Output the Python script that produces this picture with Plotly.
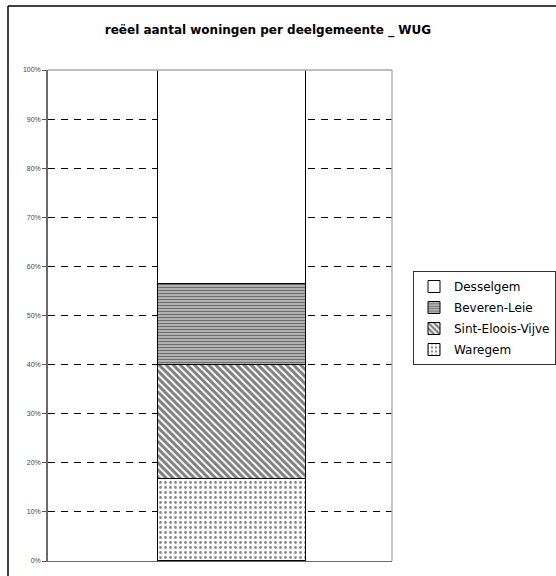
import plotly.graph_objects as go

# Share of dwellings per sub-municipality (stacked to 100 %)
categories = ["WUG"]
waregem = [16.7]
sint_eloois_vijve = [23.2]
beveren_leie = [16.5]
desselgem = [43.6]

tick_values = [0, 10, 20, 30, 40, 50, 60, 70, 80, 90, 100]
tick_labels = ["0%", "10%", "20%", "30%", "40%", "50%", "60%", "70%", "80%", "90%", "100%"]

W, H = 556, 576
L, R, T, B = 48, 164, 70, 15
plot_w = W - L - R
plot_h = H - T - B

series = [
    ("Waregem", waregem, dict(shape=".", size=5, solidity=0.25, fgcolor="#111111", bgcolor="white")),
    ("Sint-Eloois-Vijve", sint_eloois_vijve, dict(shape="\\", size=5, solidity=0.6, fgcolor="black", bgcolor="white")),
    ("Beveren-Leie", beveren_leie, dict(shape="-", size=3, solidity=0.5, fgcolor="#111111", bgcolor="#c8c8c8")),
    ("Desselgem", desselgem, dict(shape="", bgcolor="white")),
]

fig = go.Figure()
for i, (name, vals, pat) in enumerate(series):
    # bottom segment listed last in the legend
    rank = (len(series) - i) * 10
    fig.add_trace(go.Bar(
        x=categories, y=vals, name=name, width=0.43,
        legendgroup=name, legendrank=rank, legendgrouptitle=None,
        marker=dict(color="white", line=dict(color="black", width=1), pattern=pat),
    ))


def px_x(px):
    return (px - L) / plot_w


def px_y(py):
    return (H - B - py) / plot_h


shapes = [
    # light plot border on top and right
    dict(type="line", xref="paper", yref="paper", x0=0, x1=1, y0=1, y1=1,
         line=dict(color="#a8a8a8", width=1.3)),
    dict(type="line", xref="paper", yref="paper", x0=1, x1=1, y0=0, y1=1,
         line=dict(color="#a8a8a8", width=1.3)),
    # outer chart frame
    dict(type="line", xref="paper", yref="paper", x0=px_x(8), x1=px_x(560), y0=px_y(6), y1=px_y(6),
         line=dict(color="black", width=1.5)),
    dict(type="line", xref="paper", yref="paper", x0=px_x(8), x1=px_x(8), y0=px_y(6), y1=px_y(580),
         line=dict(color="black", width=1.5)),
]

fig.update_layout(
    barmode="stack",
    width=W, height=H,
    margin=dict(l=L, r=R, t=T, b=B, autoexpand=False),
    paper_bgcolor="white",
    plot_bgcolor="white",
    title=dict(text="<b>reëel aantal woningen per deelgemeente _ WUG</b>",
               x=268 / W, xref="container", xanchor="center",
               y=1 - 30 / H, yref="container", yanchor="middle",
               font=dict(family="DejaVu Sans", size=12, color="black")),
    xaxis=dict(range=[-0.535, 0.465], showticklabels=False, ticks="", showgrid=False,
               zeroline=False, showline=True, linecolor="#6a6a6a", linewidth=1.3, fixedrange=True),
    yaxis=dict(range=[0, 100], tickvals=tick_values, ticktext=tick_labels,
               ticks="outside", ticklen=4, tickcolor="#555555", tickwidth=1,
               tickfont=dict(family="Liberation Sans", size=7, color="#444444"),
               showgrid=True, gridcolor="black", gridwidth=1, griddash="7px,6px",
               zeroline=False, showline=True, linecolor="#6a6a6a", linewidth=1.5),
    legend=dict(x=px_x(413), y=px_y(271), xanchor="left", yanchor="top",
                traceorder="grouped", bordercolor="#333333", borderwidth=1,
                bgcolor="white", font=dict(family="DejaVu Sans", size=12, color="black"),
                tracegroupgap=2, itemwidth=30),
    shapes=shapes,
    bargap=0,
)

fig.write_html("out.html")
